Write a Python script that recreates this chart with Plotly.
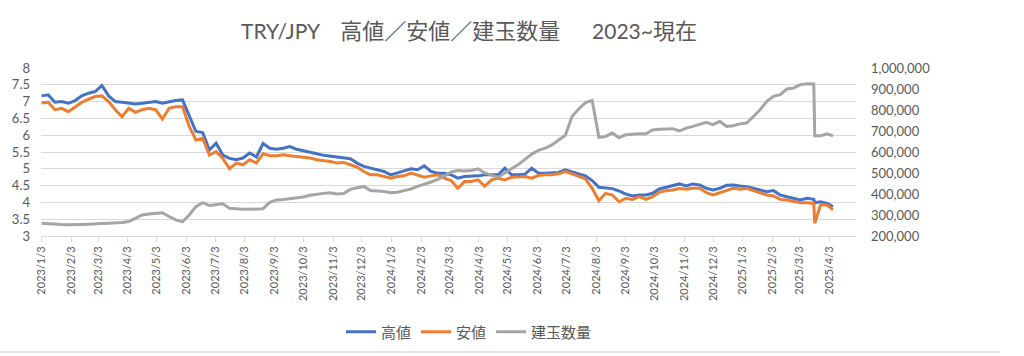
import pandas as pd
import plotly.graph_objects as go

# ---- data (roughly weekly) ----
week_dates = list(pd.date_range("2023-01-03", periods=118, freq="7D").strftime("%Y-%m-%d"))
extra_dates = ["2025-03-19", "2025-04-07"]
dates = sorted(week_dates + extra_dates)

high = [
    7.17, 7.20, 6.98, 7.00, 6.95, 7.03, 7.17, 7.25, 7.30, 7.48,
    7.17, 7.00, 6.98, 6.95, 6.93, 6.95, 6.98, 7.00, 6.95, 7.00,
    7.03, 7.05, 6.56, 6.11, 6.08, 5.56, 5.76, 5.41, 5.31, 5.27,
    5.32, 5.47, 5.35, 5.75, 5.61, 5.58, 5.61, 5.66, 5.58, 5.54,
    5.51, 5.45, 5.40, 5.37, 5.34, 5.32, 5.30, 5.17, 5.07, 5.02,
    4.97, 4.92, 4.82, 4.87, 4.94, 5.00, 4.97, 5.09, 4.92, 4.87,
    4.87, 4.82, 4.72, 4.77, 4.77, 4.79, 4.82, 4.82, 4.82, 5.02,
    4.82, 4.82, 4.84, 5.02, 4.87, 4.87, 4.87, 4.89, 4.97, 4.92,
    4.85, 4.79, 4.65, 4.45, 4.42, 4.41, 4.34, 4.25, 4.19, 4.22,
    4.22, 4.27, 4.40, 4.45, 4.49, 4.55, 4.49, 4.55, 4.52, 4.42,
    4.37, 4.42, 4.51, 4.52, 4.49, 4.47, 4.42, 4.37, 4.32, 4.35,
    4.22, 4.17, 4.12, 4.07, 4.12, 4.09, 3.99, 4.02, 3.97, 3.87,
]

low = [
    6.96, 6.98, 6.76, 6.80, 6.70, 6.85, 6.98, 7.07, 7.15, 7.17,
    7.00, 6.76, 6.55, 6.80, 6.68, 6.76, 6.80, 6.76, 6.48, 6.80,
    6.85, 6.85, 6.26, 5.86, 5.91, 5.41, 5.51, 5.31, 5.00, 5.17,
    5.12, 5.27, 5.17, 5.45, 5.39, 5.39, 5.42, 5.39, 5.37, 5.34,
    5.32, 5.27, 5.25, 5.22, 5.17, 5.19, 5.12, 5.05, 4.92, 4.82,
    4.82, 4.77, 4.72, 4.77, 4.79, 4.87, 4.82, 4.75, 4.79, 4.82,
    4.72, 4.65, 4.42, 4.62, 4.62, 4.67, 4.48, 4.67, 4.72, 4.67,
    4.75, 4.77, 4.77, 4.72, 4.80, 4.82, 4.82, 4.85, 4.92, 4.85,
    4.77, 4.70, 4.42, 4.05, 4.27, 4.22, 4.02, 4.12, 4.09, 4.17,
    4.09, 4.17, 4.30, 4.35, 4.37, 4.41, 4.39, 4.42, 4.42, 4.29,
    4.22, 4.29, 4.37, 4.42, 4.39, 4.42, 4.35, 4.29, 4.22, 4.19,
    4.09, 4.07, 4.02, 3.99, 3.99, 3.97, 3.38, 3.92, 3.92, 3.78,
]

open_interest = [
    261000, 258000, 256000, 255000, 254000, 253000, 255000, 256000, 256000, 259000,
    261000, 262000, 264000, 269000, 285000, 300000, 305000, 308000, 311000, 293000,
    277000, 268000, 300000, 340000, 359000, 345000, 348000, 353000, 332000, 328000,
    327000, 327000, 327000, 330000, 360000, 372000, 374000, 378000, 383000, 386000,
    394000, 400000, 403000, 406000, 400000, 402000, 422000, 430000, 436000, 417000,
    416000, 412000, 406000, 408000, 416000, 424000, 436000, 446000, 457000, 470000,
    485000, 505000, 512000, 510000, 512000, 520000, 500000, 490000, 480000, 500000,
    520000, 540000, 565000, 590000, 608000, 618000, 634000, 658000, 680000, 769000,
    805000, 835000, 845000, 670000, 674000, 690000, 668000, 682000, 686000, 687000,
    687000, 705000, 708000, 710000, 711000, 700000, 714000, 722000, 730000, 741000,
    730000, 746000, 722000, 725000, 734000, 738000, 769000, 801000, 841000, 865000,
    873000, 900000, 905000, 921000, 925000, 924000, 677000, 677000, 687000, 677000,
]

tick_dates = list(pd.date_range("2023-01-01", "2025-04-01", freq="MS").map(lambda d: d.replace(day=3)).strftime("%Y-%m-%d"))
tick_labels = [f"{pd.Timestamp(d).year}/{pd.Timestamp(d).month}/{pd.Timestamp(d).day}" for d in tick_dates]

left_ticks = [3, 3.5, 4, 4.5, 5, 5.5, 6, 6.5, 7, 7.5, 8]
right_ticks = [200000, 300000, 400000, 500000, 600000, 700000, 800000, 900000, 1000000]

series_names = ["高値", "安値", "建玉数量"]
series_colors = ["#4472C4", "#ED7D31", "#A5A5A5"]
title_text = ("TRY/JPY\u3000<span style='font-size:22px'>高値／安値／建玉数量</span>"
              "\u3000\u00a0 2023~<span style='font-size:22px'>現在</span>")

FONT = "Lato, 'Noto Sans CJK JP', sans-serif"
TXT = "#595959"
GRID = "#D9D9D9"

fig = go.Figure()
fig.add_trace(go.Scatter(x=dates, y=high, name=series_names[0], mode="lines",
                         line=dict(color=series_colors[0], width=3)))
fig.add_trace(go.Scatter(x=dates, y=low, name=series_names[1], mode="lines",
                         line=dict(color=series_colors[1], width=3)))
fig.add_trace(go.Scatter(x=dates, y=open_interest, name=series_names[2], mode="lines",
                         yaxis="y2", line=dict(color=series_colors[2], width=3)))

fig.update_layout(
    width=1024, height=356,
    margin=dict(l=41, r=168, t=68, b=120),
    paper_bgcolor="white", plot_bgcolor="white",
    font=dict(family=FONT, color=TXT),
    title=dict(text=title_text, xref="container", yref="container",
               x=469 / 1024, y=1 - 32 / 356, xanchor="center", yanchor="middle",
               font=dict(size=21, color=TXT, family=FONT)),
    showlegend=True,
    legend=dict(orientation="h", xref="container", yref="container",
                x=469 / 1024, y=1 - 332 / 356, xanchor="center", yanchor="middle",
                font=dict(size=15, color=TXT), bgcolor="rgba(0,0,0,0)"),
    xaxis=dict(type="date", range=["2023-01-02 12:00", "2025-05-01"],
               tickmode="array", tickvals=tick_dates, ticktext=tick_labels,
               tickangle=-90, ticks="outside", ticklen=5, tickcolor=GRID,
               showline=True, linecolor=GRID, linewidth=1, showgrid=False,
               zeroline=False, tickfont=dict(size=11, color=TXT)),
    yaxis=dict(range=[3, 8], tickmode="array", tickvals=left_ticks,
               showgrid=True, gridcolor=GRID, gridwidth=1, zeroline=False,
               showline=False, ticks="", ticklabelstandoff=10,
               tickfont=dict(size=13, color=TXT)),
    yaxis2=dict(range=[200000, 1000000], overlaying="y", side="right",
                tickmode="array", tickvals=right_ticks, tickformat=",",
                showgrid=False, zeroline=False, showline=False, ticks="",
                ticklabelstandoff=14, tickfont=dict(size=13, color=TXT)),
)

fig.add_shape(type="line", xref="paper", yref="paper",
              x0=-41 / 815, x1=(1000 - 41) / 815,
              y0=(236 - 352) / 168, y1=(236 - 352) / 168,
              line=dict(color="#E3E3E3", width=2))

fig.write_html("out.html", config={"displayModeBar": False},
               post_script="document.body.style.margin='0';")
